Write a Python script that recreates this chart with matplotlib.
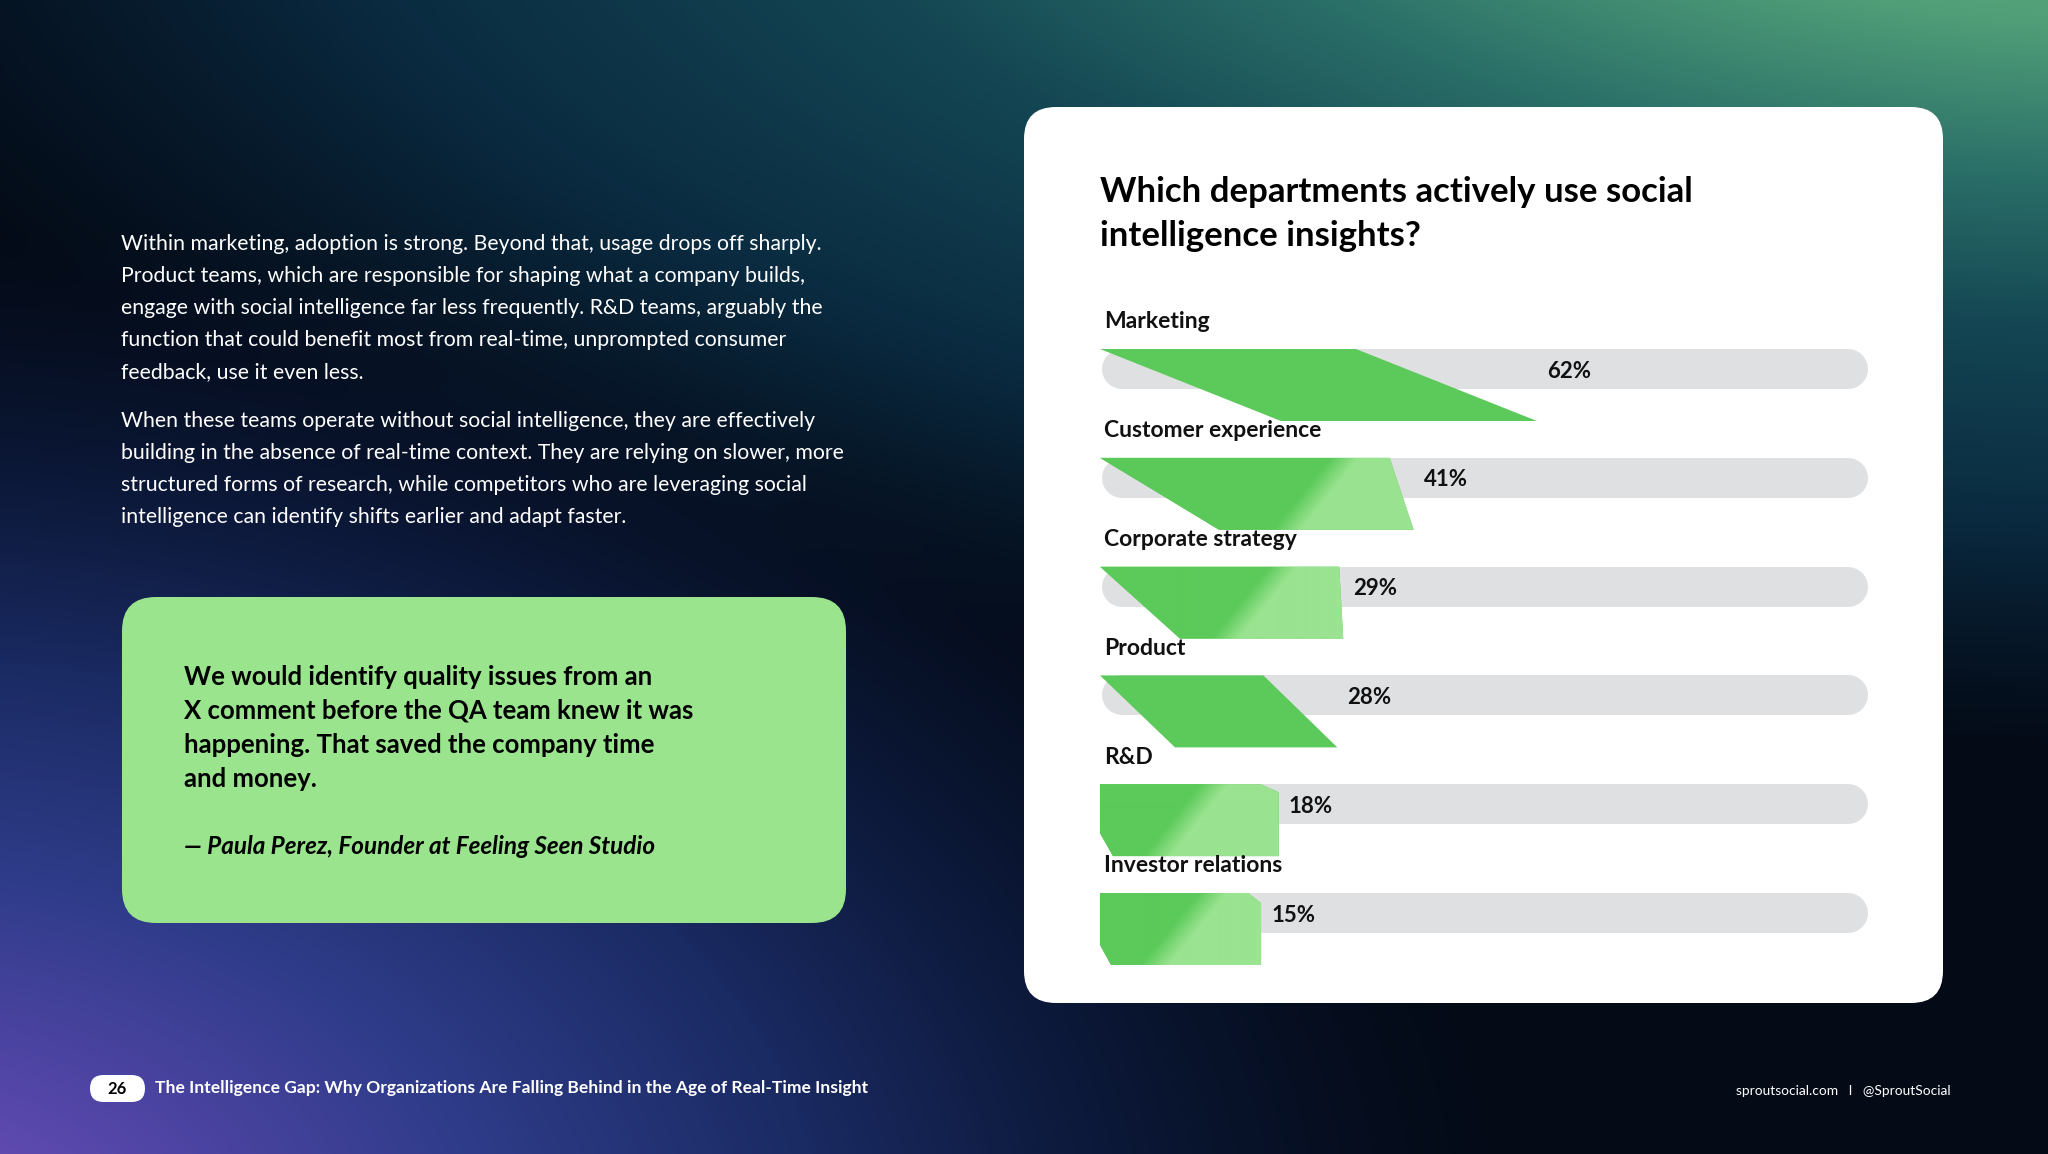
import numpy as np
import matplotlib

matplotlib.use("Agg")
import matplotlib.pyplot as plt
from matplotlib.patches import FancyBboxPatch, Polygon
from matplotlib.colors import to_rgb

W, H = 2048, 1154
plt.rcParams["font.family"] = ["Lato", "DejaVu Sans"]

# ---- data -----------------------------------------------------------------
CATEGORIES = ["Marketing", "Customer experience", "Corporate strategy",
              "Product", "R&D", "Investor relations"]
VALUES = [62, 41, 29, 28, 18, 15]

TITLE_LINES = ["Which departments actively use social",
               "intelligence insights?"]
PARA_1 = [
    "Within marketing, adoption is strong. Beyond that, usage drops off sharply.",
    "Product teams, which are responsible for shaping what a company builds,",
    "engage with social intelligence far less frequently. R&D teams, arguably the",
    "function that could benefit most from real-time, unprompted consumer",
    "feedback, use it even less.",
]
PARA_2 = [
    "When these teams operate without social intelligence, they are effectively",
    "building in the absence of real-time context. They are relying on slower, more",
    "structured forms of research, while competitors who are leveraging social",
    "intelligence can identify shifts earlier and adapt faster.",
]
QUOTE_LINES = [
    "We would identify quality issues from an",
    "X comment before the QA team knew it was",
    "happening. That saved the company time",
    "and money.",
]
ATTRIBUTION = "\u2014 Paula Perez, Founder at Feeling Seen Studio"
PAGE_NO = "26"
FOOTER_LEFT = ("The Intelligence Gap: Why Organizations Are Falling Behind "
               "in the Age of Real-Time Insight")
FOOTER_RIGHT = "sproutsocial.com   I   @SproutSocial"

# ---- styling --------------------------------------------------------------
DARK_GREEN = np.array(to_rgb("#5bca5a"))
LIGHT_GREEN = np.array(to_rgb("#9ae390"))
TRACK_GREY = "#dfe0e2"
QUOTE_BG = "#99e48d"

# ribbon shape per row (pixels): top-right inset, bottom-left inset,
# right chamfer, left chamfer, two-tone boundary offset from tip (None = solid)
RIBBON_STYLE = [
    (181, 181, 0, 0, None),
    (24, 119, 0, 0, 70),
    (4, 80, 0, 0, 62),
    (74, 75, 0, 0, None),
    (18, 13, 8, 23, 65),
    (13, 11, 10, 20, 50),
]
RIBBON_H = 72
TRACK_H = 40


def background():
    yy, xx = np.mgrid[0:H, 0:W].astype(float)
    img = np.empty((H, W, 3))
    img[:] = to_rgb("#04070f")

    def layer(img, d, stops, colors, alphas):
        cols = np.array([to_rgb(c) for c in colors])
        a = np.interp(d, stops, alphas)[..., None]
        col = np.stack([np.interp(d, stops, cols[:, k]) for k in range(3)], -1)
        return img * (1 - a) + col * a

    # teal / green glow from the top right
    d1 = np.sqrt(((xx - 2150) / 1950) ** 2 + ((yy + 200) / 760) ** 2)
    img = layer(img, d1, [0.0, 0.3, 0.5, 0.7, 0.95, 1.25],
                ["#6cbc82", "#4f9e78", "#2a6e68", "#134552", "#0a2a40", "#040d1c"],
                [1, 1, 1, 1, 1, 0.6])
    # purple / blue glow from the bottom left
    d2 = np.sqrt(((xx + 120) / 1350) ** 2 + ((yy - 1260) / 860) ** 2)
    img = layer(img, d2, [0.0, 0.22, 0.45, 0.7, 0.95, 1.2],
                ["#7a55c0", "#5446a8", "#2f3c8a", "#1a2a62", "#0b1838", "#08122a"],
                [1, 1, 1, 1, 0.85, 0.0])
    return np.clip(img, 0, 1)


fig = plt.figure(figsize=(W / 100, H / 100), dpi=100)
bg = fig.add_axes([0, 0, 1, 1])
bg.imshow(background(), extent=(0, W, H, 0), interpolation="bilinear")
bg.set_xlim(0, W)
bg.set_ylim(H, 0)
bg.axis("off")

# white card and quote box
bg.add_patch(FancyBboxPatch((1024, 107), 919, 896,
                            boxstyle="round,pad=0,rounding_size=32",
                            fc="white", ec="none"))
bg.add_patch(FancyBboxPatch((122, 597), 724, 326,
                            boxstyle="round,pad=0,rounding_size=34",
                            fc=QUOTE_BG, ec="none"))

# left column text
for i, line in enumerate(PARA_1):
    bg.text(121, 244 + i * 32, line, color="white", fontsize=15.3,
            ha="left", va="center")
for i, line in enumerate(PARA_2):
    bg.text(121, 421 + i * 32, line, color="white", fontsize=15.3,
            ha="left", va="center")
for i, line in enumerate(QUOTE_LINES):
    bg.text(184, 677 + i * 34, line, color="black", fontsize=18.5,
            fontweight="bold", ha="left", va="center")
bg.text(184, 846, ATTRIBUTION, color="black", fontsize=17.5,
        fontweight="bold", fontstyle="italic", ha="left", va="center")

# title
for i, line in enumerate(TITLE_LINES):
    bg.text(1100, 192 + i * 44, line, color="black", fontsize=25,
            fontweight="bold", ha="left", va="center")

# footer
bg.add_patch(FancyBboxPatch((90, 1075), 55, 27,
                            boxstyle="round,pad=0,rounding_size=13.5",
                            fc="white", ec="none"))
bg.text(117.5, 1088.5, PAGE_NO, color="black", fontsize=12,
        fontweight="bold", ha="center", va="center")
bg.text(155, 1088, FOOTER_LEFT, color="white", fontsize=12.6,
        fontweight="bold", ha="left", va="center")
bg.text(1951, 1091, FOOTER_RIGHT, color="white", fontsize=9.9,
        ha="right", va="center")

# ---- chart ---------------------------------------------------------------
AX_L, AX_R, AX_T, AX_B = 1100, 1868, 300, 990
X0_PX, PX_PER_PCT = 1173, 5.87          # value -> pixel on the card
ROW0_PX, ROW_PX = 369, 108.8
xlim = ((AX_L - X0_PX) / PX_PER_PCT, (AX_R - X0_PX) / PX_PER_PCT)
ylim = ((AX_B - ROW0_PX) / ROW_PX, (AX_T - ROW0_PX) / ROW_PX)

cax = fig.add_axes([AX_L / W, 1 - AX_B / H, (AX_R - AX_L) / W, (AX_B - AX_T) / H])
cax.set_xlim(*xlim)
cax.set_ylim(*ylim)
cax.axis("off")
cax.patch.set_alpha(0)

dx = 1.0 / PX_PER_PCT   # data units per pixel
dy = 1.0 / ROW_PX
x_left = xlim[0]

for i, (cat, v) in enumerate(zip(CATEGORIES, VALUES)):
    tr, bl, ch_r, ch_l, grad = RIBBON_STYLE[i]
    # track
    cax.plot([x_left + 22 * dx, xlim[1] - 20 * dx], [i, i], color=TRACK_GREY,
             lw=TRACK_H * 0.72, solid_capstyle="round", zorder=1)
    # ribbon
    top = i - (TRACK_H / 2) * dy
    bot = top + RIBBON_H * dy
    right = v
    pts = [(x_left, top), (right - tr * dx, top)]
    if ch_r:
        pts.append((right, top + ch_r * dy))
    pts += [(right, bot), (x_left + bl * dx, bot)]
    if ch_l:
        pts.append((x_left, bot - ch_l * dy))
    poly = Polygon(pts, closed=True, fc=DARK_GREEN, ec="none", zorder=2)
    cax.add_patch(poly)
    if grad is not None:
        w_px = int(round((right - x_left) / dx))
        yy, xx = np.mgrid[0:RIBBON_H, 0:w_px].astype(float)
        xb = (w_px - grad) - 0.8 * yy
        t = np.clip((xx - xb + 14) / 28, 0, 1)[..., None]
        arr = DARK_GREEN * (1 - t) + LIGHT_GREEN * t
        im = cax.imshow(arr, extent=(x_left, right, bot, top), aspect="auto",
                        interpolation="bilinear", zorder=3)
        im.set_clip_path(poly)
    # labels
    cax.text(x_left + 4 * dx, i - 47 * dy, cat, color="#111111", fontsize=16.5,
             fontweight="bold", ha="left", va="center", zorder=4)
    cax.text(right + 10 * dx, i + 2 * dy, f"{v}%", color="#111111",
             fontsize=16, fontweight="bold", ha="left", va="center", zorder=4)

cax.set_xlim(*xlim)
cax.set_ylim(*ylim)

fig.savefig("out.png", dpi=100)
